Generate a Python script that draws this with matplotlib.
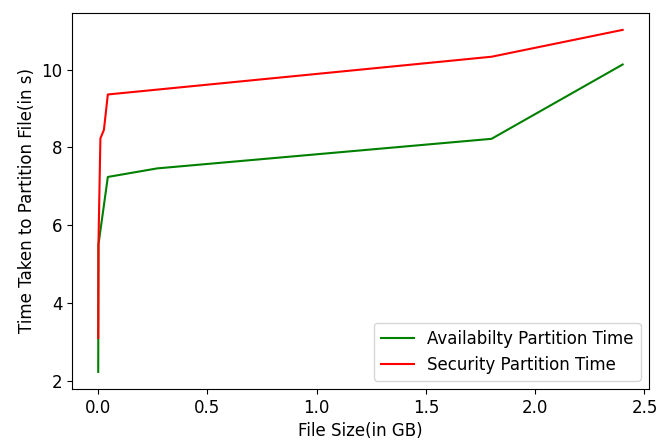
import matplotlib
matplotlib.use("Agg")
import matplotlib.pyplot as plt

plt.rcParams["font.size"] = 12

avail_size = [0.0, 0.001, 0.044, 0.27, 1.8, 2.4]
availability_time = [2.23, 5.5, 7.24, 7.46, 8.22, 10.13]
sec_size = [0.0, 0.001, 0.01, 0.026, 0.044, 1.8, 2.4]
security_time = [3.1, 5.5, 8.23, 8.45, 9.36, 10.33, 11.02]

fig = plt.figure(figsize=(6.57, 4.41), dpi=100)
ax = fig.add_axes([0.1096, 0.118, 0.878, 0.853])
ax.plot(avail_size, availability_time, color="green", label="Availabilty Partition Time")
ax.plot(sec_size, security_time, color="red", label="Security Partition Time")
ax.set_xlabel("File Size(in GB)")
ax.set_ylabel("Time Taken to Partition File(in s)")
ax.set_xticks([0.0, 0.5, 1.0, 1.5, 2.0, 2.5])
ax.set_yticks([2, 4, 6, 8, 10])
ax.legend(loc="lower right")
fig.savefig("out.png", dpi=100)
